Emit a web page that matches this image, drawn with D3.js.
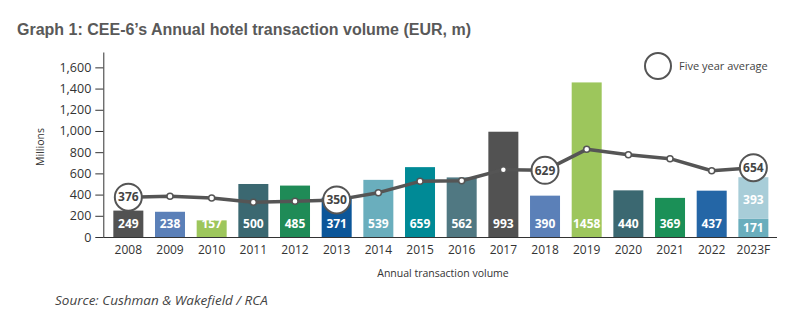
<!DOCTYPE html>
<html><head><meta charset="utf-8">
<script src="https://cdn.jsdelivr.net/npm/d3@7"></script>
<style>body{margin:0;background:#fff}svg{display:block}</style>
</head><body><svg id="c" width="805" height="324"></svg>
<script>
const years = ["2008","2009","2010","2011","2012","2013","2014","2015","2016","2017","2018","2019","2020","2021","2022","2023F"];
const volumes = [249,238,157,500,485,371,539,659,562,993,390,1458,440,369,437,171];
const forecastExtra = [0,0,0,0,0,0,0,0,0,0,0,0,0,0,0,393];
const fiveYearAvg = [376,384,368,327,337,350,418,525,531,635,629,827,776,739,625,654];
const labelledAvg = ["2008","2013","2018","2023F"];
const barColors = ["#525252","#5b80b8","#9dc65c","#3b6871","#1f8b57","#0b5699","#6aaebd","#008a96","#507882","#525252","#5b80b8","#9dc65c","#3b6871","#1b9057","#2466a6","#6aaebd"];
const extraColor = "#a8cdd8";
const yTicks = [0,200,400,600,800,1000,1200,1400,1600];

const svg = d3.select("#c");
const x = d3.scaleBand().domain(years).range([107.5,774.2]).paddingInner(0.28).paddingOuter(0.14);
const y = d3.scaleLinear().domain([0,1745]).range([237,52]);

// title
svg.append("text").attr("x",17).attr("y",35).attr("font-family","Liberation Sans, Arial, sans-serif")
  .attr("font-weight","bold").attr("font-size",16).attr("fill","#595959")
  .text("Graph 1: CEE-6\u2019s Annual hotel transaction volume (EUR, m)");

// bars
svg.append("g").selectAll("rect").data(years).join("rect")
  .attr("x",d=>x(d)).attr("width",x.bandwidth())
  .attr("y",(d,i)=>y(volumes[i])).attr("height",(d,i)=>y(0)-y(volumes[i]))
  .attr("fill",(d,i)=>barColors[i]);
svg.append("g").selectAll("rect").data(years.filter((d,i)=>forecastExtra[i]>0)).join("rect")
  .attr("x",d=>x(d)).attr("width",x.bandwidth())
  .attr("y",d=>{const i=years.indexOf(d);return y(volumes[i]+forecastExtra[i]);})
  .attr("height",d=>{const i=years.indexOf(d);return y(volumes[i])-y(volumes[i]+forecastExtra[i]);})
  .attr("fill",extraColor);

// bar labels
const lbl = svg.append("g").attr("font-family","Open Sans, sans-serif").attr("font-weight","bold")
  .attr("font-size",12).attr("fill","#fff").attr("text-anchor","middle");
years.forEach((d,i)=>{
  const stacked = forecastExtra[i]>0;
  const cy = stacked ? (y(0)+y(volumes[i]))/2 : y(0)-13;
  lbl.append("text").attr("x",x(d)+x.bandwidth()/2).attr("y",cy).attr("dy","0.36em").text(volumes[i]);
  if(stacked){
    lbl.append("text").attr("x",x(d)+x.bandwidth()/2)
      .attr("y",(y(volumes[i])+y(volumes[i]+forecastExtra[i]))/2+2).attr("dy","0.36em").text(forecastExtra[i]);
  }
});

// y axis
const ya = svg.append("g").attr("transform","translate(103.3,0)")
  .call(d3.axisLeft(y).tickValues(yTicks).tickSize(8).tickSizeOuter(0).tickFormat(d3.format(",")));
ya.select(".domain").attr("stroke","#333");
ya.selectAll(".tick line").attr("stroke","#333");
ya.selectAll("text").attr("font-family","Open Sans, sans-serif").attr("font-size",12.5).attr("fill","#333").attr("x",-12);

// x axis
const xa = svg.append("g").attr("transform","translate(0,237)")
  .call(d3.axisBottom(x).tickSize(0).tickPadding(8));
xa.select(".domain").attr("stroke","#333").attr("d","M103.3,0.5H777");
xa.selectAll("text").attr("font-family","Open Sans, sans-serif").attr("font-size",12).attr("fill","#333");

// axis titles
svg.append("text").attr("transform","translate(44,147) rotate(-90)").attr("text-anchor","middle")
  .attr("font-family","Open Sans, sans-serif").attr("font-size",10.5).attr("fill","#333").text("Millions");
svg.append("text").attr("x",443).attr("y",277).attr("text-anchor","middle")
  .attr("font-family","Open Sans, sans-serif").attr("font-size",10.5).attr("fill","#333").text("Annual transaction volume");

// five-year average line
const cx = d=>x(d)+x.bandwidth()/2;
const line = d3.line().x((d,i)=>cx(years[i])).y(d=>y(d));
svg.append("path").datum(fiveYearAvg).attr("d",line).attr("fill","none")
  .attr("stroke","#555").attr("stroke-width",3.5).attr("stroke-linejoin","round");
svg.append("g").selectAll("circle").data(years.filter(d=>!labelledAvg.includes(d))).join("circle")
  .attr("cx",cx).attr("cy",d=>y(fiveYearAvg[years.indexOf(d)])).attr("r",3)
  .attr("fill","#fff").attr("stroke","#555").attr("stroke-width",1.5);
const big = svg.append("g").selectAll("g").data(labelledAvg).join("g")
  .attr("transform",d=>`translate(${cx(d)},${y(fiveYearAvg[years.indexOf(d)])})`);
big.append("circle").attr("r",13.5).attr("fill","#fff").attr("stroke","#555").attr("stroke-width",2);
big.append("text").attr("text-anchor","middle").attr("dy","0.36em").attr("font-family","Open Sans, sans-serif")
  .attr("font-weight","bold").attr("font-size",12).attr("fill","#444").text(d=>fiveYearAvg[years.indexOf(d)]);

// legend
svg.append("circle").attr("cx",658).attr("cy",66).attr("r",13).attr("fill","#fff").attr("stroke","#555").attr("stroke-width",2);
svg.append("text").attr("x",679).attr("y",66).attr("dy","0.36em").attr("font-family","Open Sans, sans-serif")
  .attr("font-size",11).attr("fill","#444").text("Five year average");

// source
svg.append("text").attr("x",55).attr("y",305).attr("font-family","Open Sans, sans-serif").attr("font-style","italic")
  .attr("font-size",13.5).attr("fill","#444").text("Source: Cushman & Wakefield / RCA");
</script></body></html>
